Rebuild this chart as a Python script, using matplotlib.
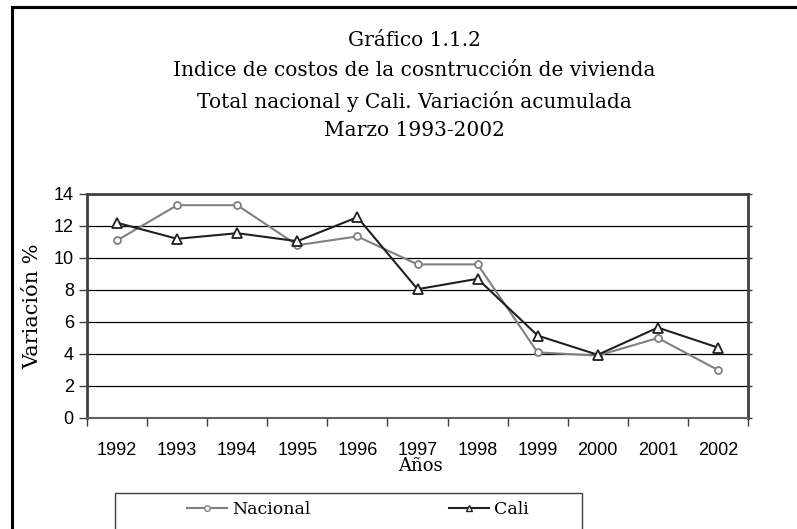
import matplotlib.pyplot as plt
from matplotlib.patches import Rectangle
from matplotlib.lines import Line2D

# Data
years = ["1992", "1993", "1994", "1995", "1996", "1997", "1998", "1999", "2000", "2001", "2002"]
nacional = [11.1, 13.3, 13.3, 10.8, 11.35, 9.6, 9.6, 4.1, 3.9, 5.0, 3.0]
cali = [12.2, 11.2, 11.55, 11.05, 12.55, 8.05, 8.7, 5.15, 3.95, 5.65, 4.4]

W, H = 797, 529
fig = plt.figure(figsize=(W / 100, H / 100), dpi=100)

serif = "DejaVu Serif"
sans = "Liberation Sans"

# outer frame (top and left edges visible)
fig.patches.append(Rectangle((12 / W, -0.1), 1.2, 1 - 7 / H + 0.1, transform=fig.transFigure,
                             fill=False, edgecolor="black", linewidth=2.2))

# title block
titles = ["Gráfico 1.1.2",
          "Indice de costos de la cosntrucción de vivienda",
          "Total nacional y Cali. Variación acumulada",
          "Marzo 1993-2002"]
for i, t in enumerate(titles):
    fig.text(414 / W, 1 - (41 + 30 * i) / H, t, ha="center", va="center",
             fontsize=14.5, family=serif)

# plot area
left, right, top, bottom = 87, 748, 194, 418
ax = fig.add_axes([left / W, 1 - bottom / H, (right - left) / W, (bottom - top) / H])
x = list(range(len(years)))

ax.plot(x, nacional, color="#808080", linewidth=1.5, marker="o", markersize=5,
        markerfacecolor="white", markeredgecolor="#808080", markeredgewidth=1.3, zorder=3)
ax.plot(x, cali, color="#202020", linewidth=1.5, marker="^", markersize=6.5,
        markerfacecolor="white", markeredgecolor="#202020", markeredgewidth=1.3, zorder=4)

ax.set_xlim(-0.5, len(years) - 0.5)
ax.set_ylim(0, 14)
ax.set_yticks(range(0, 15, 2))
ax.yaxis.grid(True, color="black", linewidth=0.9)
ax.set_axisbelow(True)

ax.set_xticks([i - 0.5 for i in range(len(years) + 1)])
ax.set_xticklabels([])
ax.set_xticks(x, minor=True)
ax.set_xticklabels(years, minor=True, family=sans, fontsize=13)
ax.tick_params(axis="x", which="major", direction="out", length=6, width=1, color="#404040")
ax.tick_params(axis="x", which="minor", length=0, pad=17)
ax.tick_params(axis="y", which="major", direction="out", length=6, width=1, color="#404040",
               labelsize=13)
for lab in ax.get_yticklabels():
    lab.set_family(sans)

# short outward ticks on the right side
ax2 = ax.twinx()
ax2.set_ylim(0, 14)
ax2.set_yticks(range(0, 15, 2))
ax2.set_yticklabels([])
ax2.tick_params(axis="y", direction="out", length=3, width=1, color="#404040")
for s in ax2.spines.values():
    s.set_visible(False)

for s in ["left", "top", "right"]:
    ax.spines[s].set_color("#404040")
    ax.spines[s].set_linewidth(2.0)
ax.spines["bottom"].set_color("#606060")
ax.spines["bottom"].set_linewidth(1.5)

ax.set_ylabel("Variación %", family=serif, fontsize=15, labelpad=8)
fig.text(420 / W, 1 - 466 / H, "Años", ha="center", va="center", fontsize=13, family=serif)

# legend box
fig.patches.append(Rectangle((115 / W, -0.1), (582 - 115) / W, 1 - 493 / H + 0.1,
                             transform=fig.transFigure, fill=False,
                             edgecolor="#404040", linewidth=1.0))
handles = [Line2D([], [], color="#808080", linewidth=1.5, marker="o", markersize=4,
                  markerfacecolor="white", markeredgecolor="#808080"),
           Line2D([], [], color="#202020", linewidth=1.5, marker="^", markersize=5,
                  markerfacecolor="white", markeredgecolor="#202020")]
fig.legend(handles, ["Nacional", "Cali"], loc="center left",
           bbox_to_anchor=(178 / W, 1 - 510 / H), ncol=2, frameon=False,
           prop={"family": serif, "size": 12.5}, handlelength=2.3, handletextpad=0.3,
           columnspacing=8.0, borderpad=0)

fig.savefig("out.png", dpi=100)
